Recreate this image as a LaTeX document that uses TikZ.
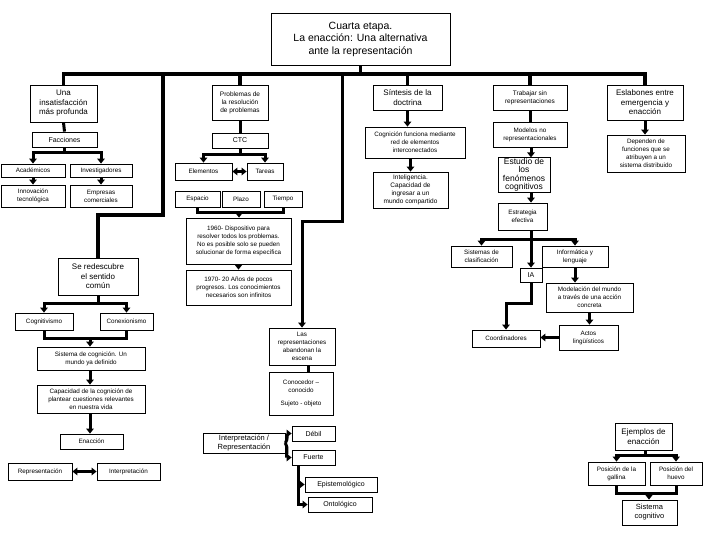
\documentclass[tikz,border=0pt]{standalone}
\usepackage{fontspec}
\setmainfont{Liberation Sans}
\usetikzlibrary{arrows.meta}
\newcommand{\BoxAt}[7][]{\node[box,#1,minimum width={(#5-#3)*1pt},minimum height={(#6-#4)*1pt}] (#2) at ({(#3+#5)/2},{(#4+#6)/2}) {#7};}
\begin{document}
\begin{tikzpicture}[x=1pt,y=-1pt,
  box/.style={draw, line width=0.8pt, fill=white, align=center, inner sep=0.5pt, font=\fontsize{6.3}{8}\selectfont},
  big/.style={font=\fontsize{8}{9.5}\selectfont},
  med/.style={font=\fontsize{7}{8.5}\selectfont},
  sm/.style={font=\fontsize{6.5}{8}\selectfont},
  conn/.style={line width=3pt},
  bus/.style={line width=3.6pt},
  arr/.style={line width=3pt, -{Triangle[width=7.5pt,length=5pt]}},
  darr/.style={line width=3pt, {Triangle[width=7.5pt,length=5pt]}-{Triangle[width=7.5pt,length=5pt]}},
]
\useasboundingbox (0,0) rectangle (720,540);
% boxes
\BoxAt[font=\fontsize{10.5}{12.5}\selectfont]{top}{271}{13}{450}{65}{Cuarta etapa.\\La enacción: Una alternativa\\ante la representación}
\BoxAt[big]{insat}{30}{85}{97}{122}{Una\\insatisfacción\\más profunda}
\BoxAt[sm]{prob}{212}{85}{268}{120}{Problemas de\\la resolución\\de problemas}
\BoxAt[big]{sint}{373}{85}{442}{110}{Síntesis de la\\doctrina}
\BoxAt[sm]{trab}{493}{85}{567}{110}{Trabajar sin\\representaciones}
\BoxAt[big]{esla}{607}{85}{683}{120}{Eslabones entre\\emergencia y\\enacción}
\BoxAt[med]{facc}{32}{132}{97}{147}{Facciones}
\BoxAt[med]{ctc}{212}{133}{268}{148}{CTC}
\BoxAt{cogn}{365}{127}{465}{158}{Cognición funciona mediante\\red de elementos\\interconectados}
\BoxAt{mode}{493}{122}{567}{147}{Modelos no\\representacionales}
\BoxAt{depe}{607}{135}{685}{172}{Dependen de\\funciones que se\\atribuyen a un\\sistema distribuido}
\BoxAt{acad}{1}{164}{65}{177}{Académicos}
\BoxAt{inve}{70}{164}{132}{177}{Investigadores}
\BoxAt{inno}{1}{185}{65}{207}{Innovación\\tecnológica}
\BoxAt{empr}{70}{185}{132}{207}{Empresas\\comerciales}
\BoxAt{elem}{175}{163}{232}{180}{Elementos}
\BoxAt{tare}{247}{163}{283}{180}{Tareas}
\BoxAt{espa}{175}{191}{220}{207}{Espacio}
\BoxAt{plaz}{222}{191}{260}{207}{Plazo}
\BoxAt{tiem}{264}{191}{302}{207}{Tiempo}
\BoxAt{n60}{186}{218}{291}{264}{1960- Dispositivo para\\resolver todos los problemas.\\No es posible solo se pueden\\solucionar de forma específica}
\BoxAt{n70}{186}{270}{291}{305}{1970- 20 Años de pocos\\progresos. Los conocimientos\\necesarios son infinitos}
\BoxAt[sm]{inte}{373}{172}{448}{208}{Inteligencia.\\Capacidad de\\ingresar a un\\mundo compartido}
\BoxAt[font=\fontsize{8.5}{8.5}\selectfont]{estu}{498}{158}{550}{192}{Estudio de\\los\\fenómenos\\cognitivos}
\BoxAt{estr}{498}{203}{547}{230}{Estrategia\\efectiva}
\BoxAt{sist}{451}{246}{512}{267}{Sistemas de\\clasificación}
\BoxAt{info}{542}{246}{608}{267}{Informática y\\lenguaje}
\BoxAt[med]{ia}{520}{268}{542}{282}{IA}
\BoxAt{mdl}{546}{283}{633}{312}{Modelación del mundo\\a través de una acción\\concreta}
\BoxAt{acto}{559}{325}{618}{350}{Actos\\lingüísticos}
\BoxAt{coor}{472}{330}{540}{347}{Coordinadores}
\BoxAt[big]{redes}{58}{258}{138}{295}{Se redescubre\\el sentido\\común}
\BoxAt{cogv}{15}{313}{73}{330}{Cognitivismo}
\BoxAt{cone}{100}{313}{153}{330}{Conexionismo}
\BoxAt{sisc}{37}{347}{145}{370}{Sistema de cognición. Un\\mundo ya definido}
\BoxAt{capa}{37}{385}{145}{413}{Capacidad de la cognición de\\plantear cuestiones relevantes\\en nuestra vida}
\BoxAt{enac}{60}{434}{123}{449}{Enacción}
\BoxAt{repr}{8}{463}{72}{480}{Representación}
\BoxAt{intp}{97}{463}{160}{480}{Interpretación}
\BoxAt{lasr}{269}{328}{335}{365}{Las\\representaciones\\abandonan la\\escena}
\BoxAt{cono}{269}{372}{333}{415}{Conocedor –\\conocido\\[5pt]Sujeto - objeto}
\BoxAt[font=\fontsize{7.5}{9}\selectfont]{inre}{203}{433}{285}{453}{Interpretación /\\Representación}
\BoxAt[med]{debi}{292}{426}{335}{441}{Débil}
\BoxAt[med]{fuer}{292}{450}{335}{465}{Fuerte}
\BoxAt[med]{epis}{305}{477}{377}{492}{Epistemológico}
\BoxAt[med]{onto}{308}{497}{372}{512}{Ontológico}
\BoxAt[big]{ejem}{615}{423}{672}{450}{Ejemplos de\\enacción}
\BoxAt{gall}{588}{462}{645}{485}{Posición de la\\gallina}
\BoxAt{huev}{650}{462}{702}{485}{Posición del\\huevo}
\BoxAt[font=\fontsize{7.5}{9}\selectfont]{sico}{622}{500}{677}{525}{Sistema\\cognitivo}
% main bus
\coordinate (bL) at (63,74);
\draw[bus] (top.south) -- (top.south |- bL);
\draw[bus] (insat.north) -- (insat.north |- bL) -- (esla.north |- bL) -- (esla.north);
\draw[bus] (prob.north |- bL) -- (prob.north);
\draw[bus] (sint.north |- bL) -- (sint.north);
\draw[bus] (trab.north |- bL) -- (trab.north);
\coordinate (d1) at (163,74); \coordinate (d1b) at (163,215);
\draw[bus] (d1) -- (d1b) -| (redes.north);
\coordinate (d2) at (342,74); \coordinate (d2b) at (342,222);
\draw[arr] (d2) -- (d2b) -| (lasr.north);
% left column
\draw[conn] (insat.south) -- (facc.north);
\coordinate (fb) at (64.5,153);
\draw[conn] (facc.south) -- (fb);
\draw[arr] (fb) -| (acad.north);
\draw[arr] (fb) -| (inve.north);
\draw[arr] (acad.south) -- (inno.north);
\draw[arr] (inve.south) -- (empr.north);
% CTC
\draw[conn] (prob.south) -- (ctc.north);
\coordinate (cb) at (240,155);
\draw[conn] (ctc.south) -- (cb);
\draw[arr] (cb) -| (elem.north);
\draw[arr] (cb) -| (tare.north);
\draw[darr] (elem.east) -- (tare.west);
\coordinate (eb) at (239,213);
\draw[conn] (espa.south) |- (eb) -| (tiem.south);
\draw[arr] (eb) -- (eb |- n60.north);
\draw[arr] (n60.south) -- (n70.north);
% sintesis
\draw[arr] (sint.south) -- (sint.south |- cogn.north);
\draw[arr] (cogn.south -| inte.north) -- (inte.north);
% trabajar sin representaciones
\coordinate (colx) at (531,0);
\draw[conn] (trab.south) -- (mode.north);
\draw[arr] (colx |- mode.south) -- (colx |- estu.north);
\draw[arr] (colx |- estu.south) -- (colx |- estr.north);
\coordinate (sb) at (531,239);
\draw[conn] (colx |- estr.south) -- (sb);
\draw[arr] (sb) -| (sist.north);
\draw[arr] (sb) -| (info.north);
\draw[arr] (sb) -- (ia.north);
\draw[arr] (info.south) -- (info.south |- mdl.north);
\draw[arr] (mdl.south) -- (mdl.south |- acto.north);
\draw[arr] (acto.west) -- (acto.west -| coor.east);
\coordinate (ib) at (531,303);
\draw[arr] (ia.south) -- (ib) -| (coor.north);
% eslabones
\draw[arr] (esla.south) -- (esla.south |- depe.north);
% sentido comun
\coordinate (rb) at (98,303);
\draw[conn] (redes.south) -- (rb);
\draw[arr] (rb) -| (cogv.north);
\draw[arr] (rb) -| (cone.north);
\coordinate (cb2) at (90,338);
\draw[conn] (cogv.south) |- (cb2) -| (cone.south);
\draw[arr] (cb2) -- (cb2 |- sisc.north);
\draw[arr] (sisc.south -| cb2) -- (capa.north -| cb2);
\draw[arr] (capa.south -| cb2) -- (enac.north -| cb2);
\draw[darr] (repr.east) -- (intp.west);
% representaciones
\draw[conn] ([xshift=6pt]lasr.south) -- ([xshift=6pt]lasr.south |- cono.north);
\draw[arr] (inre.east) to[out=55,in=180] (debi.west);
\draw[arr] (inre.east) to[out=-55,in=180] (fuer.west);
\coordinate (fv) at (298,465);
\draw[arr] (fv) |- (epis.west);
\draw[arr] (fv) |- (onto.west);
% ejemplos
\coordinate (jb) at (645,455);
\draw[conn] (ejem.south -| jb) -- (jb);
\draw[arr] (jb) -| (gall.north);
\draw[arr] (jb) -| (huev.north);
\coordinate (kb) at (649,493);
\draw[conn] (gall.south) |- (kb) -| (huev.south);
\draw[arr] (kb) -- (kb |- sico.north);
\end{tikzpicture}
\end{document}
